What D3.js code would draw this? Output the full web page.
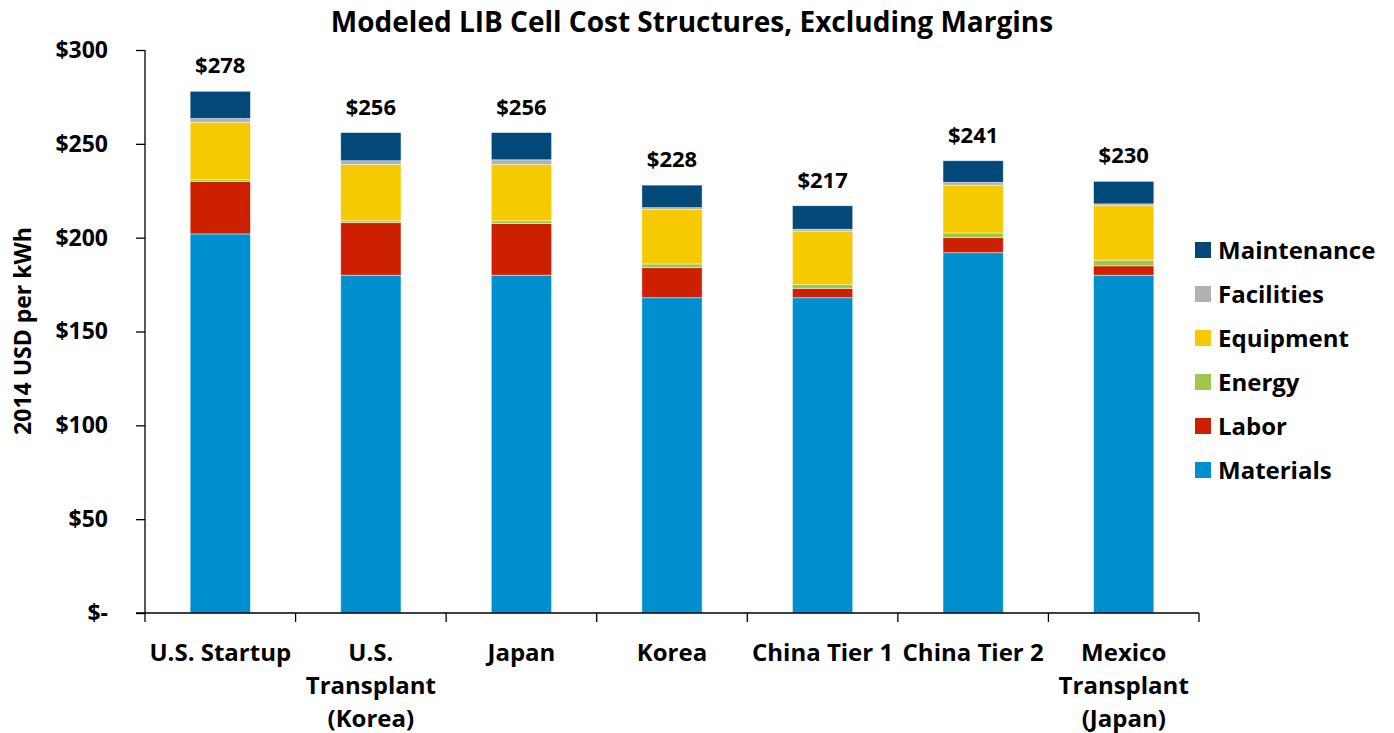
<!DOCTYPE html>
<html>
<head>
<meta charset="utf-8">
<script src="https://cdn.jsdelivr.net/npm/d3@7"></script>
<style>
  html, body { margin: 0; padding: 0; background: #fff; }
  svg { display: block; font-family: "Open Sans", Lato, sans-serif; font-weight: bold; }
</style>
</head>
<body>
<svg id="chart" width="1394" height="733"></svg>
<script>
// Categories (multi-line axis labels) and cost components per kWh
const categories = ["U.S. Startup", "U.S. Transplant (Korea)", "Japan", "Korea", "China Tier 1", "China Tier 2", "Mexico Transplant (Japan)"];
const categoryLines = [["U.S. Startup"], ["U.S.", "Transplant", "(Korea)"], ["Japan"], ["Korea"], ["China Tier 1"], ["China Tier 2"], ["Mexico", "Transplant", "(Japan)"]];

const materials   = [202, 180, 180, 168, 168, 192, 180];
const labor       = [28, 28, 27.5, 16, 5, 8, 5];
const energy      = [1, 1, 1.5, 2, 2, 2.5, 3];
const equipment   = [30.5, 30, 30, 29, 28.5, 25.5, 29];
const facilities  = [2, 2, 2.5, 1, 1, 1.5, 1];
const maintenance = [14.5, 15, 14.5, 12, 12.5, 11.5, 12];

const seriesNames  = ["Materials", "Labor", "Energy", "Equipment", "Facilities", "Maintenance"];
const seriesColors = ["#008fce", "#cc2000", "#9cc94c", "#f5ca00", "#b1b1b1", "#02497a"];
const yTicks = [0, 50, 100, 150, 200, 250, 300];

const seriesValues = [materials, labor, energy, equipment, facilities, maintenance];
const rows = categories.map((c, i) => {
  const r = { category: c };
  seriesNames.forEach((s, k) => { r[s] = seriesValues[k][i]; });
  r.total = seriesNames.reduce((a, s) => a + r[s], 0);
  return r;
});

const svg = d3.select("#chart");
const plotLeft = 145, plotRight = 1199, plotTop = 50, plotBottom = 613;

const x = d3.scaleBand().domain(categories).range([plotLeft, plotRight]).paddingInner(0.6).paddingOuter(0.3);
const y = d3.scaleLinear().domain([0, 300]).range([plotBottom, plotTop]);
const color = d3.scaleOrdinal().domain(seriesNames).range(seriesColors);

const stack = d3.stack().keys(seriesNames)(rows);

// Title
svg.append("text")
  .attr("x", 692).attr("y", 32)
  .attr("text-anchor", "middle")
  .attr("font-size", 28)
  .text("Modeled LIB Cell Cost Structures, Excluding Margins");

// Stacked bars
svg.append("g").selectAll("g").data(stack).join("g")
  .attr("fill", d => color(d.key))
  .selectAll("rect").data(d => d).join("rect")
  .attr("x", d => x(d.data.category))
  .attr("width", x.bandwidth())
  .attr("y", d => y(d[1]))
  .attr("height", d => y(d[0]) - y(d[1]))
  .attr("stroke", "rgba(255,255,255,0.55)")
  .attr("stroke-width", 0.8);

// Total labels
svg.append("g").selectAll("text").data(rows).join("text")
  .attr("x", d => x(d.category) + x.bandwidth() / 2)
  .attr("y", d => y(d.total) - 18)
  .attr("text-anchor", "middle")
  .attr("font-size", 22)
  .text(d => "$" + d3.format(".0f")(d.total));

// Y axis
const yAxis = svg.append("g")
  .attr("transform", `translate(${plotLeft},0)`)
  .call(d3.axisLeft(y).tickValues(yTicks).tickSize(9).tickPadding(28)
    .tickFormat(v => v === 0 ? "$-" : "$" + v));
yAxis.select(".domain").attr("stroke", "#000").attr("stroke-width", 1.3).attr("d", `M0,${plotTop}V${plotBottom}`);
yAxis.selectAll(".tick line").attr("stroke", "#000").attr("stroke-width", 1.3);
yAxis.selectAll(".tick text").attr("font-size", 23).attr("font-family", "'Open Sans', sans-serif").attr("font-weight", "bold").attr("fill", "#000");

// X axis baseline with separators between categories
const xg = svg.append("g");
xg.append("line")
  .attr("x1", plotLeft - 9).attr("x2", plotRight)
  .attr("y1", plotBottom).attr("y2", plotBottom)
  .attr("stroke", "#000").attr("stroke-width", 1.3);
const step = x.step();
const sepX = d3.range(categories.length + 1).map(i => x(categories[0]) - step * x.paddingOuter() + i * step);
xg.selectAll("line.sep").data(sepX).join("line")
  .attr("class", "sep")
  .attr("x1", d => d).attr("x2", d => d)
  .attr("y1", plotBottom).attr("y2", plotBottom + 9)
  .attr("stroke", "#000").attr("stroke-width", 1.3);

// Category labels
const catLabels = xg.selectAll("text.cat").data(categories).join("text")
  .attr("class", "cat")
  .attr("text-anchor", "middle")
  .attr("font-size", 24)
  .attr("x", d => x(d) + x.bandwidth() / 2)
  .attr("y", 661);
catLabels.each(function(d, i) {
  d3.select(this).selectAll("tspan").data(categoryLines[i]).join("tspan")
    .attr("x", x(d) + x.bandwidth() / 2)
    .attr("dy", (t, j) => j === 0 ? 0 : 33)
    .text(t => t);
});

// Y axis title
svg.append("text")
  .attr("transform", "translate(31,331) rotate(-90)")
  .attr("text-anchor", "middle")
  .attr("font-size", 23)
  .text("2014 USD per kWh");

// Legend (top to bottom: Maintenance ... Materials)
const legendItems = seriesNames.slice().reverse();
const legend = svg.append("g").selectAll("g").data(legendItems).join("g")
  .attr("transform", (d, i) => `translate(1195,${250 + i * 44})`);
legend.append("rect")
  .attr("x", 0).attr("y", -8).attr("width", 16).attr("height", 16)
  .attr("fill", d => color(d));
legend.append("text")
  .attr("x", 23).attr("y", 9)
  .attr("font-size", 24)
  .text(d => d);
</script>
</body>
</html>
